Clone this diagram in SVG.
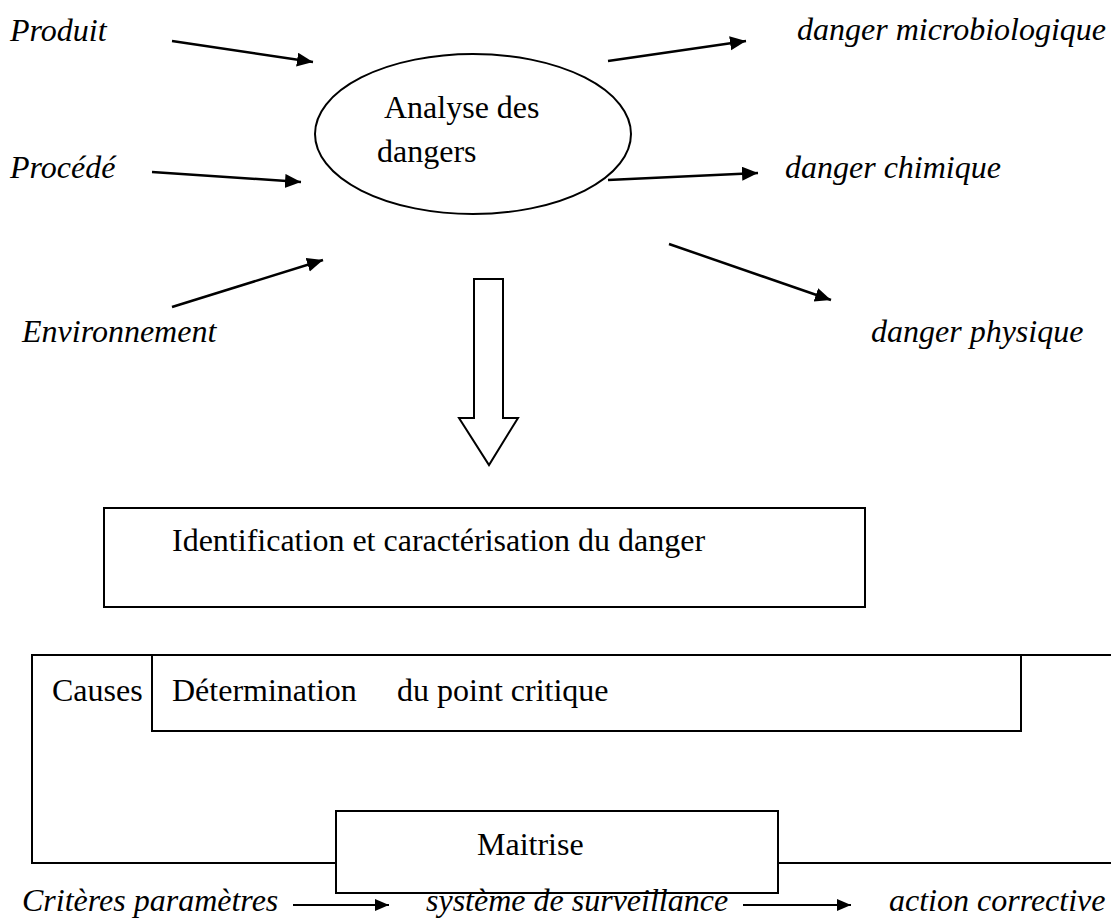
<svg xmlns="http://www.w3.org/2000/svg" width="1111" height="919" viewBox="0 0 1111 919">
<style>
  .t { font-family: "Liberation Serif", "Times New Roman", serif; font-size: 32px; fill: #000; }
  .i { font-style: italic; }
  .box { fill: none; stroke: #000; stroke-width: 2; }
  .arr { stroke: #000; stroke-width: 2.5; fill: none; marker-end: url(#ah); }
  .arr2 { stroke: #000; stroke-width: 2; fill: none; marker-end: url(#ah2); }
</style>
<defs>
  <marker id="ah" markerUnits="userSpaceOnUse" markerWidth="18" markerHeight="16" refX="16" refY="7" orient="auto">
    <path d="M0,0 L16,7 L0,14 Z" fill="#000"/>
  </marker>
  <marker id="ah2" markerUnits="userSpaceOnUse" markerWidth="16" markerHeight="14" refX="14" refY="6" orient="auto">
    <path d="M0,0 L14,6 L0,12 Z" fill="#000"/>
  </marker>
</defs>
<rect width="1111" height="919" fill="#fff"/>

<g id="produit"><text class="t i" x="10" y="41">Produit</text></g>
<g id="procede"><text class="t i" x="10" y="178">Procédé</text></g>
<g id="environnement"><text class="t i" x="22" y="342">Environnement</text></g>

<g id="analyse">
  <ellipse cx="473" cy="134" rx="158" ry="80" fill="none" stroke="#000" stroke-width="2"/>
  <text class="t" x="384" y="118">Analyse des</text>
  <text class="t" x="377" y="162">dangers</text>
</g>

<g id="microbio"><text class="t i" x="797" y="40">danger microbiologique</text></g>
<g id="chimique"><text class="t i" x="785" y="178">danger chimique</text></g>
<g id="physique"><text class="t i" x="871" y="342">danger physique</text></g>

<g id="identification">
  <rect class="box" x="104" y="508" width="761" height="99"/>
  <text class="t" x="172" y="551">Identification et caractérisation du danger</text>
</g>

<g id="causes">
  <path class="box" d="M1111,655 L32,655 L32,863 L336,863 M778,863 L1111,863"/>
  <text class="t" x="52" y="701">Causes</text>
</g>

<g id="determination">
  <rect class="box" x="152" y="655" width="869" height="76"/>
  <text class="t" x="172" y="701">Détermination</text>
  <text class="t" x="397" y="701">du point critique</text>
</g>

<g id="maitrise">
  <rect class="box" x="336" y="811" width="442" height="82" fill="#fff"/>
  <text class="t" x="477" y="855">Maitrise</text>
</g>

<g id="criteres"><text class="t i" x="22" y="911">Critères paramètres</text></g>
<g id="surveillance"><text class="t i" x="426" y="911">système de surveillance</text></g>
<g id="corrective"><text class="t i" x="889" y="911">action corrective</text></g>

<g id="connectors">
  <line class="arr" x1="172" y1="41" x2="313" y2="62"/>
  <line class="arr" x1="152" y1="172" x2="301" y2="182"/>
  <line class="arr" x1="172" y1="307" x2="323" y2="260"/>
  <line class="arr" x1="608" y1="61" x2="746" y2="41"/>
  <line class="arr" x1="608" y1="180" x2="758" y2="173"/>
  <line class="arr" x1="669" y1="244" x2="831" y2="300"/>
  <path d="M474,279 L503,279 L503,418 L518,418 L489,465 L459,418 L474,418 Z" fill="#fff" stroke="#000" stroke-width="2" stroke-linejoin="miter"/>
  <line class="arr2" x1="293" y1="905" x2="389" y2="905"/>
  <line class="arr2" x1="743" y1="905" x2="851" y2="905"/>
</g>
</svg>
